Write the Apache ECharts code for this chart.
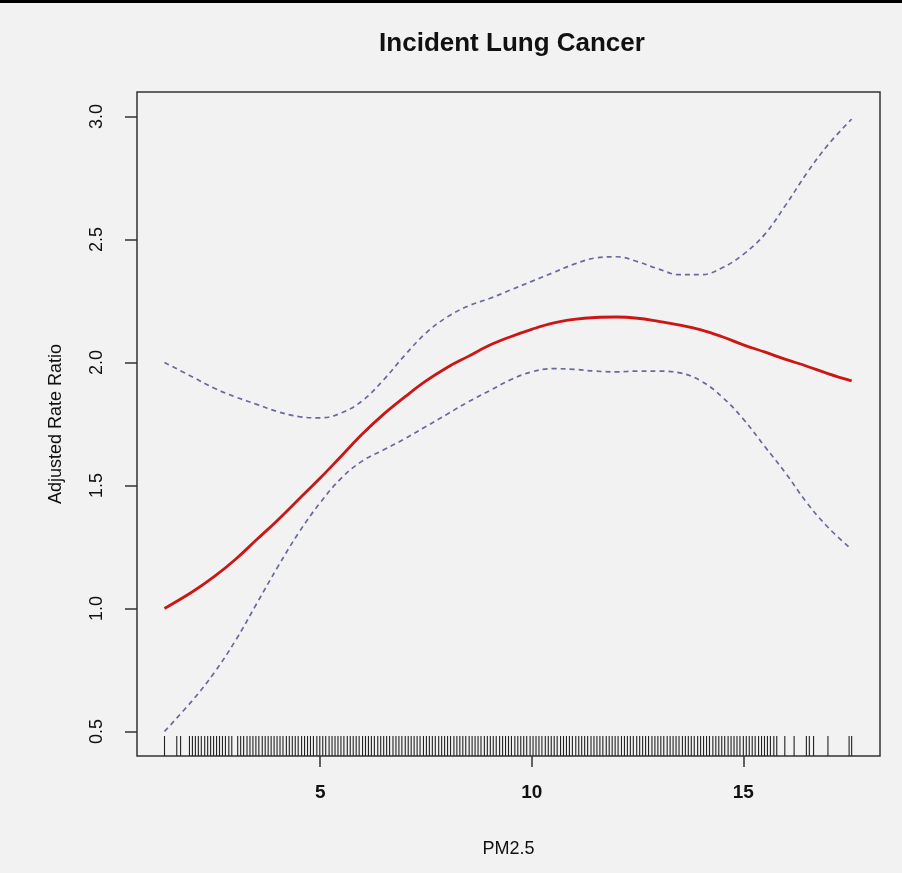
<!DOCTYPE html>
<html>
<head>
<meta charset="utf-8">
<script src="https://cdn.jsdelivr.net/npm/echarts@6/dist/echarts.min.js"></script>
<style>
  html, body { margin: 0; padding: 0; background: #f2f2f2; }
  #chart { width: 902px; height: 873px; }
</style>
</head>
<body>
<div id="chart"></div>
<script>
// PM2.5 sample positions for the curves
const pm = [1.32, 2, 2.5, 3, 3.5, 4, 4.5, 5, 5.5, 6, 6.5, 7, 7.5, 8, 8.5, 9, 9.5, 10,
  10.5, 11, 11.5, 12, 12.5, 13, 13.5, 14, 14.5, 15, 15.5, 16, 16.5, 17, 17.56]
// fitted rate ratio (red)
const fit = [1.00, 1.07, 1.13, 1.20, 1.28, 1.36, 1.445, 1.53, 1.62, 1.71, 1.79, 1.86, 1.925, 1.98,
  2.025, 2.07, 2.105, 2.135, 2.16, 2.175, 2.183, 2.185, 2.18, 2.167, 2.152, 2.133, 2.105, 2.072,
  2.043, 2.013, 1.985, 1.955, 1.925]
// confidence bands (dashed)
const upper = [2.00, 1.94, 1.895, 1.86, 1.83, 1.80, 1.78, 1.775, 1.795, 1.845, 1.93, 2.03, 2.12,
  2.185, 2.23, 2.26, 2.295, 2.33, 2.365, 2.40, 2.425, 2.43, 2.41, 2.38, 2.357, 2.357, 2.385, 2.44,
  2.52, 2.64, 2.77, 2.885, 2.99]
const lower = [0.50, 0.63, 0.74, 0.87, 1.02, 1.17, 1.31, 1.43, 1.53, 1.60, 1.645, 1.69, 1.74, 1.79,
  1.84, 1.885, 1.93, 1.962, 1.975, 1.972, 1.965, 1.962, 1.965, 1.965, 1.958, 1.925, 1.86, 1.77,
  1.66, 1.55, 1.43, 1.33, 1.24]
// observed PM2.5 values (rug)
const rug = [1.32, 1.61, 1.70,
  1.91, 1.98, 2.05, 2.12, 2.19, 2.27, 2.34, 2.41, 2.48, 2.55, 2.62, 2.69, 2.76, 2.84, 2.91, 3.05,
  3.12, 3.19, 3.27, 3.34, 3.41, 3.48, 3.55, 3.63, 3.70, 3.77, 3.84, 3.91, 3.98, 4.05, 4.12, 4.20,
  4.27, 4.34, 4.41, 4.48, 4.56, 4.63, 4.70, 4.77, 4.84, 4.92, 4.99, 5.06, 5.13, 5.21, 5.28, 5.35,
  5.42, 5.49, 5.56, 5.64, 5.71, 5.78, 5.85, 5.92, 6.00, 6.07, 6.14, 6.21, 6.28, 6.36, 6.43, 6.50,
  6.57, 6.64, 6.72, 6.79, 6.86, 6.93, 7.01, 7.08, 7.15, 7.22, 7.29, 7.36, 7.44, 7.51, 7.58, 7.65,
  7.72, 7.80, 7.87, 7.94, 8.01, 8.08, 8.16, 8.23, 8.30, 8.37, 8.44, 8.52, 8.59, 8.66, 8.73, 8.80,
  8.88, 8.95, 9.02, 9.09, 9.16, 9.24, 9.31, 9.38, 9.45, 9.52, 9.60, 9.67, 9.74, 9.81, 9.88, 9.96,
  10.03, 10.10, 10.17, 10.24, 10.32, 10.39, 10.46, 10.53, 10.60, 10.68, 10.75, 10.82, 10.89,
  10.96, 11.04, 11.11, 11.18, 11.25, 11.32, 11.40, 11.47, 11.54, 11.61, 11.68, 11.76, 11.83,
  11.90, 11.97, 12.04, 12.12, 12.19, 12.26, 12.33, 12.40, 12.48, 12.55, 12.62, 12.69, 12.76,
  12.84, 12.91, 12.98, 13.05, 13.12, 13.20, 13.27, 13.34, 13.41, 13.48, 13.56, 13.63, 13.70,
  13.77, 13.84, 13.92, 13.99, 14.06, 14.13, 14.20, 14.28, 14.35, 14.42, 14.49, 14.56, 14.64,
  14.71, 14.78, 14.85, 14.92, 15.00, 15.07, 15.14, 15.21, 15.28, 15.36, 15.43, 15.50, 15.57,
  15.64, 15.72, 15.79,
  15.98, 16.20, 16.49, 16.56, 16.66, 17.00, 17.50, 17.56]
const xTicks = [5, 10, 15]
const yTicks = [0.5, 1.0, 1.5, 2.0, 2.5, 3.0]

const xMin = 0.67
const xMax = 18.23
const yMin = 0.4
const yMax = 3.1
const font = '"Liberation Sans", Arial, sans-serif'

const pairs = (ys) => pm.map((x, i) => [x, ys[i]])

const chart = echarts.init(document.getElementById('chart'))
chart.setOption({
  animation: false,
  backgroundColor: '#f2f2f2',
  graphic: [{
    type: 'rect',
    shape: { x: 0, y: 0, width: 902, height: 3 },
    style: { fill: '#000' }
  }],
  title: {
    text: 'Incident Lung Cancer',
    left: 507,
    top: 26,
    textAlign: 'center',
    textStyle: { fontFamily: font, fontWeight: 'bold', fontSize: 26, color: '#111' }
  },
  grid: {
    left: 137,
    right: 22,
    top: 92,
    bottom: 117,
    show: true,
    borderColor: '#333',
    borderWidth: 1.5,
    backgroundColor: 'transparent'
  },
  xAxis: {
    type: 'value',
    min: xMin,
    max: xMax,
    name: 'PM2.5',
    nameLocation: 'middle',
    nameGap: 84,
    nameTextStyle: { fontFamily: font, fontSize: 18, color: '#111' },
    axisLine: { show: false },
    splitLine: { show: false },
    axisTick: { show: true, length: 11, customValues: xTicks, lineStyle: { color: '#333', width: 1.5 } },
    axisLabel: {
      customValues: xTicks,
      margin: 27,
      fontFamily: font,
      fontSize: 19,
      fontWeight: 'bold',
      color: '#111'
    }
  },
  yAxis: {
    type: 'value',
    min: yMin,
    max: yMax,
    name: 'Adjusted Rate Ratio',
    nameLocation: 'middle',
    nameGap: 72,
    nameTextStyle: { fontFamily: font, fontSize: 18, color: '#111' },
    axisLine: { show: false },
    splitLine: { show: false },
    axisTick: { show: true, length: 12, customValues: yTicks, lineStyle: { color: '#333', width: 1.5 } },
    axisLabel: {
      customValues: yTicks,
      rotate: 90,
      margin: 31,
      fontFamily: font,
      fontSize: 18,
      color: '#111',
      formatter: (v) => v.toFixed(1)
    }
  },
  series: [
    {
      type: 'custom',
      name: 'rug',
      data: rug.map(v => [v]),
      encode: { x: 0 },
      renderItem: (params, api) => {
        const p = api.coord([api.value(0), yMin])
        return {
          type: 'line',
          shape: { x1: p[0], y1: p[1], x2: p[0], y2: p[1] - 20 },
          style: { stroke: '#222', lineWidth: 1.1 }
        }
      },
      z: 1
    },
    {
      type: 'line',
      name: 'upper',
      data: pairs(upper),
      smooth: 0.4,
      showSymbol: false,
      lineStyle: { color: '#686a9c', width: 1.7, type: [5, 4] },
      z: 2
    },
    {
      type: 'line',
      name: 'lower',
      data: pairs(lower),
      smooth: 0.4,
      showSymbol: false,
      lineStyle: { color: '#686a9c', width: 1.7, type: [5, 4] },
      z: 2
    },
    {
      type: 'line',
      name: 'fit',
      data: pairs(fit),
      smooth: 0.4,
      showSymbol: false,
      lineStyle: { color: '#cc1515', width: 2.8 },
      z: 3
    }
  ]
})
</script>
</body>
</html>
